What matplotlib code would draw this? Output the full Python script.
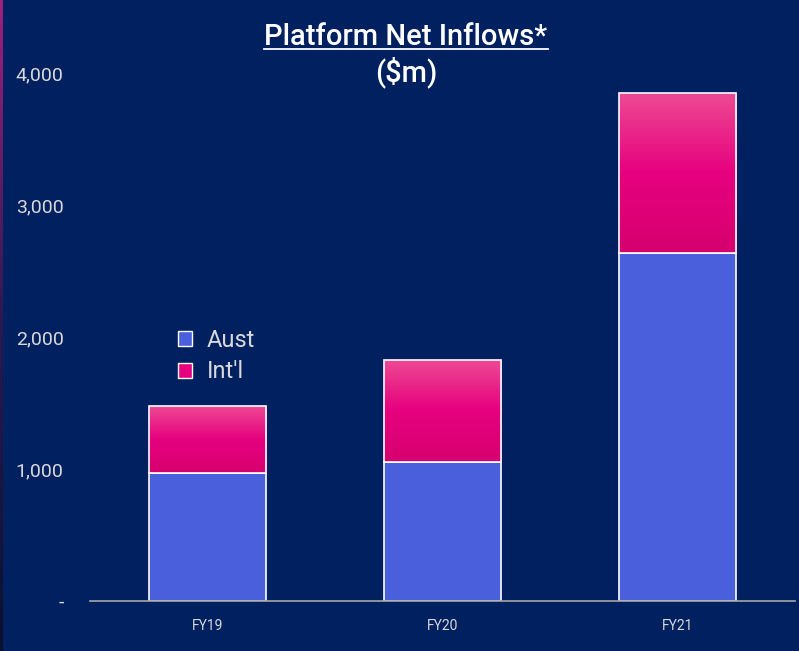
import numpy as np
import matplotlib.pyplot as plt
from matplotlib.colors import LinearSegmentedColormap
from matplotlib.lines import Line2D
from matplotlib.patches import Patch

# data ($m)
years = ["FY19", "FY20", "FY21"]
aust = [970, 1053, 2636]
intl = [507, 773, 1212]
y_ticks = [0, 1000, 2000, 3000, 4000]
y_labels = ["-", "1,000", "2,000", "3,000", "4,000"]

BG = "#00205f"
AUST_C = "#4a5fdb"
PINK_CMAP = LinearSegmentedColormap.from_list("pink", ["#d6006f", "#e6007e", "#ee4a94"])

plt.rcParams["font.family"] = ["Roboto", "DejaVu Sans"]

fig = plt.figure(figsize=(7.99, 6.51), dpi=100, facecolor=BG)
ax = fig.add_axes([90 / 799, 1 - 601 / 651, 705 / 799, 528 / 651])
ax.set_facecolor(BG)

x = np.arange(len(years))
ax.bar(x, aust, width=0.5, color=AUST_C, edgecolor="white", linewidth=1.2, zorder=2)
tops = ax.bar(x, intl, width=0.5, bottom=aust, color="none", edgecolor="white",
              linewidth=1.2, zorder=3)

# gradient fill for Int'l segments
grad = np.linspace(0, 1, 256).reshape(-1, 1)
for bar in tops:
    bx, by = bar.get_x(), bar.get_y()
    im = ax.imshow(grad, cmap=PINK_CMAP, origin="lower", aspect="auto",
                   extent=[bx, bx + bar.get_width(), by, by + bar.get_height()], zorder=2)
    im.set_clip_path(bar)

ax.set_xlim(-0.5, 2.5)
ax.set_ylim(0, 4000)
ax.set_xticks(x)
ax.set_xticklabels(years, color="#d9d9d9", fontsize=10)
ax.set_yticks(y_ticks)
ax.set_yticklabels(y_labels, color="#d9d9d9", fontsize=14)
ax.tick_params(length=0, pad=19, axis="y")
ax.tick_params(length=0, pad=13, axis="x")
for s in ["top", "right", "left"]:
    ax.spines[s].set_visible(False)
ax.spines["bottom"].set_color("#a6a6a6")
ax.spines["bottom"].set_linewidth(1.2)

handles = [Patch(facecolor=AUST_C, edgecolor="white", label="Aust"),
           Patch(facecolor="#e6007e", edgecolor="white", label="Int'l")]
leg = ax.legend(handles=handles, loc="upper left", bbox_to_anchor=(0.095, 0.555),
                frameon=False, fontsize=17, handlelength=0.6, handleheight=0.6,
                handletextpad=0.6, labelspacing=0.35)
for t in leg.get_texts():
    t.set_color("#d9d9d9")

# title with underline
t1 = fig.text(406 / 799, 1 - 45 / 651, "Platform Net Inflows*", ha="center", va="baseline",
              color="white", fontsize=21, fontweight="medium")
fig.text(406 / 799, 1 - 72 / 651, "($m)", ha="center", va="center",
         color="white", fontsize=21, fontweight="medium")
fig.canvas.draw()
bb = t1.get_window_extent().transformed(fig.transFigure.inverted())
uy = 1 - 49 / 651
fig.add_artist(Line2D([bb.x0, bb.x1], [uy, uy], color="white", linewidth=1.3,
                      transform=fig.transFigure))

# thin accent strip on left edge
strip = fig.add_axes([0, 0, 3 / 799, 1])
strip.imshow(np.linspace(0, 1, 256).reshape(-1, 1),
             cmap=LinearSegmentedColormap.from_list("s", ["#0a1030", "#2a1850", "#a0207f"]),
             origin="lower", aspect="auto")
strip.axis("off")

fig.savefig("out.png", dpi=100, facecolor=BG)
